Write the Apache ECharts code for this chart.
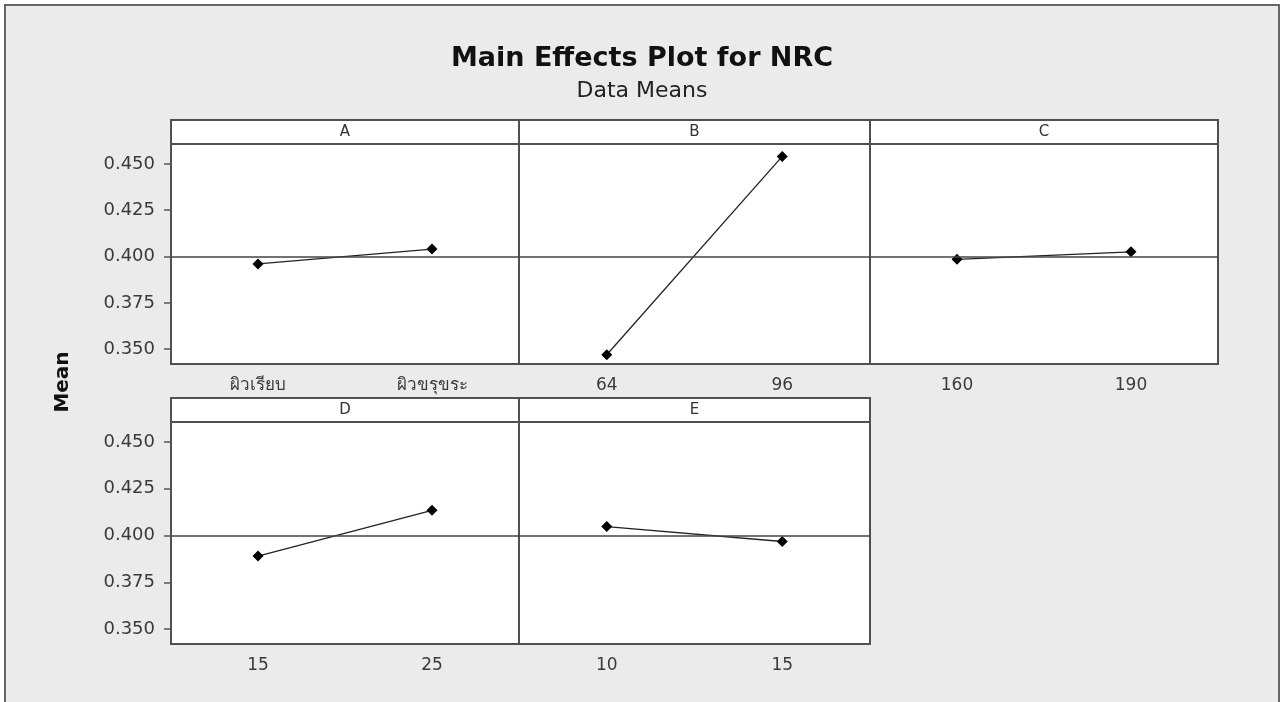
<!DOCTYPE html>
<html>
<head>
<meta charset="utf-8">
<script src="https://cdn.jsdelivr.net/npm/echarts@6/dist/echarts.min.js"></script>
<style>
  html, body { margin: 0; padding: 0; background: #fff; }
  #frame {
    position: absolute; left: 4px; top: 4px; width: 1272px; height: 720px;
    background: #ebebeb; border: 2px solid #666;
  }
  #chart { position: absolute; left: 0; top: 0; width: 1284px; height: 702px; }
</style>
</head>
<body>
<div id="frame"></div>
<div id="chart"></div>
<script>
// factor names and level labels
const factors = ['A', 'B', 'C', 'D', 'E'];
const levelsA = ['ผิวเรียบ', 'ผิวขรุขระ'];
const levelsB = ['64', '96'];
const levelsC = ['160', '190'];
const levelsD = ['15', '25'];
const levelsE = ['10', '15'];
// data means of NRC for each level
const meansA = [0.396, 0.404];
const meansB = [0.347, 0.454];
const meansC = [0.3985, 0.4025];
const meansD = [0.389, 0.4135];
const meansE = [0.4048, 0.3968];
const grandMean = 0.4005;
const yTicks = [0.350, 0.375, 0.400, 0.425, 0.450];

const levels = [levelsA, levelsB, levelsC, levelsD, levelsE];
const means = [meansA, meansB, meansC, meansD, meansE];

// panel layout (px)
const panels = [
  { left: 171, top: 144, width: 348, height: 220 },
  { left: 519, top: 144, width: 351, height: 220 },
  { left: 870, top: 144, width: 348, height: 220 },
  { left: 171, top: 422, width: 348, height: 222 },
  { left: 519, top: 422, width: 351, height: 222 },
];
const headerH = 24;
const font = 'DejaVu Sans';

const grid = [], xAxis = [], yAxis = [], series = [], graphic = [];

panels.forEach((p, i) => {
  const firstCol = i === 0 || i === 3;
  grid.push({
    left: p.left, top: p.top, width: p.width, height: p.height,
    show: true, backgroundColor: '#fff', borderColor: '#505050', borderWidth: 2,
  });
  xAxis.push({
    type: 'category', gridIndex: i, data: levels[i], boundaryGap: true,
    axisLine: { show: false },
    axisTick: { alignWithLabel: true, length: 7, lineStyle: { color: '#555', width: 1.5 } },
    axisLabel: { fontFamily: font, fontSize: 17, color: '#3a3a3a', margin: 13 },
  });
  yAxis.push({
    type: 'value', gridIndex: i, min: 0.342, max: 0.4607,
    splitLine: { show: false },
    axisLine: { show: false },
    axisTick: { show: firstCol, customValues: yTicks, length: 7, lineStyle: { color: '#555', width: 1.5 } },
    axisLabel: {
      show: firstCol, customValues: yTicks, margin: 16,
      fontFamily: font, fontSize: 18, color: '#3a3a3a',
      formatter: v => v.toFixed(3),
    },
  });
  series.push({
    type: 'line', xAxisIndex: i, yAxisIndex: i, data: means[i],
    symbol: 'diamond', symbolSize: 11,
    itemStyle: { color: '#000' },
    lineStyle: { color: '#222', width: 1.3 },
    animation: false,
    markLine: {
      silent: true, symbol: 'none', label: { show: false },
      lineStyle: { color: '#444', type: 'solid', width: 1.5 },
      data: [{ yAxis: grandMean }],
    },
  });
  graphic.push({
    type: 'rect', shape: { x: p.left, y: p.top - headerH, width: p.width, height: headerH },
    style: { fill: '#fff', stroke: '#505050', lineWidth: 2 },
  });
  graphic.push({
    type: 'text', x: p.left + p.width / 2, y: p.top - headerH / 2,
    style: { text: factors[i], fontFamily: font, fontSize: 15, fill: '#333', align: 'center', verticalAlign: 'middle' },
  });
});

graphic.push({
  type: 'text', x: 63, y: 382, rotation: Math.PI / 2,
  style: { text: 'Mean', fontFamily: font, fontSize: 20, fontWeight: 'bold', fill: '#111', align: 'center', verticalAlign: 'middle' },
});

const chart = echarts.init(document.getElementById('chart'));
chart.setOption({
  backgroundColor: 'transparent',
  animation: false,
  title: [
    {
      text: 'Main Effects Plot for NRC', left: 'center', top: 40,
      textStyle: { fontFamily: font, fontSize: 27, fontWeight: 'bold', color: '#111' },
    },
    {
      text: 'Data Means', left: 'center', top: 75,
      textStyle: { fontFamily: font, fontSize: 22, fontWeight: 'normal', color: '#222' },
    },
  ],
  grid, xAxis, yAxis, series, graphic,
});
</script>
</body>
</html>
